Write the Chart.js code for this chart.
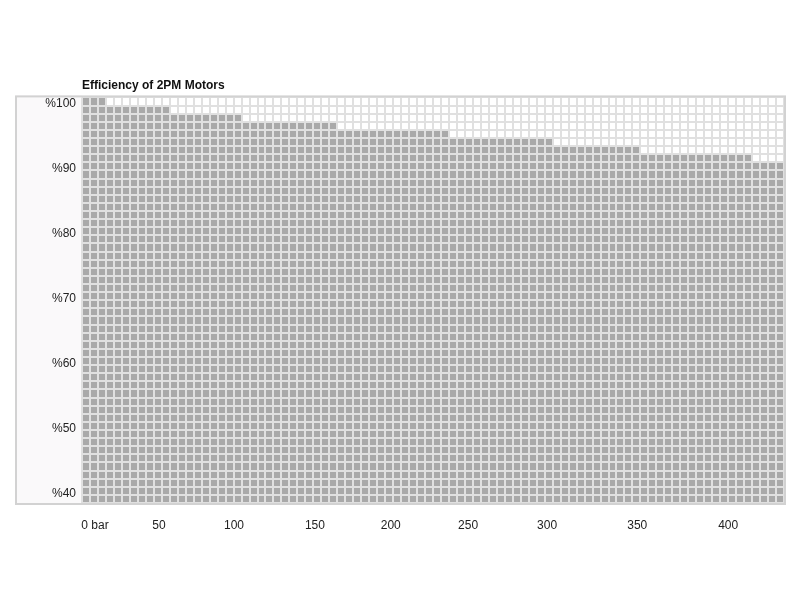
<!DOCTYPE html>
<html>
<head>
<meta charset="utf-8">
<script src="https://cdn.jsdelivr.net/npm/chart.js@4/dist/chart.umd.min.js"></script>
<style>
    html, body { margin: 0; padding: 0; background: #ffffff; }
    #wrap { width: 800px; height: 600px; position: relative; }
</style>
</head>
<body>
<div id="wrap"><canvas id="myChart" width="800" height="600"></canvas></div>
<script>
// ============  data ============ //

// one column per cell across the plot (88 cells)
const columns = [];
for (let i = 0; i < 88; i++) columns.push('c' + i);

// efficiency reached by each column (%)
const efficiency = [
    101, 101, 101,
    99.75, 99.75, 99.75, 99.75, 99.75, 99.75, 99.75, 99.75,
    98.5, 98.5, 98.5, 98.5, 98.5, 98.5, 98.5, 98.5, 98.5,
    97.25, 97.25, 97.25, 97.25, 97.25, 97.25, 97.25, 97.25, 97.25, 97.25, 97.25, 97.25,
    96, 96, 96, 96, 96, 96, 96, 96, 96, 96, 96, 96, 96, 96,
    94.75, 94.75, 94.75, 94.75, 94.75, 94.75, 94.75, 94.75, 94.75, 94.75, 94.75, 94.75, 94.75,
    93.5, 93.5, 93.5, 93.5, 93.5, 93.5, 93.5, 93.5, 93.5, 93.5, 93.5,
    92.25, 92.25, 92.25, 92.25, 92.25, 92.25, 92.25, 92.25, 92.25, 92.25, 92.25, 92.25, 92.25, 92.25,
    91, 91, 91, 91
];

// pressure tick labels and where they sit (in column units)
const pressureLabels = ['0 bar', '50', '100', '150', '200', '250', '300', '350', '400'];
const pressureAt = [1.63, 9.65, 19.05, 29.2, 38.7, 48.4, 58.3, 69.6, 81.0];

// efficiency tick labels
const effTicks = [40, 50, 60, 70, 80, 90, 100];

// the grid rows: 50 rows of 1.25 %
const yMin = 38.5;
const yMax = 101;
const rowStep = 1.25;

// ============  chart ============ //

const font = { family: "'Liberation Sans', Arial, sans-serif", size: 12 };
const gridColor = '#e0e0e0';

// frame + light panel behind the y labels
const framePlugin = {
    id: 'frame',
    beforeDraw(chart) {
        const { ctx, chartArea } = chart;
        ctx.save();
        ctx.fillStyle = '#faf9fa';
        ctx.fillRect(16, chartArea.top - 2, chartArea.left - 16, chartArea.bottom - chartArea.top + 4);
        ctx.fillStyle = '#ffffff';
        ctx.fillRect(chartArea.left, chartArea.top, chartArea.right - chartArea.left, chartArea.bottom - chartArea.top);
        ctx.restore();
    },
    afterDraw(chart) {
        const { ctx, chartArea } = chart;
        ctx.save();
        ctx.strokeStyle = '#d2d2d2';
        ctx.lineWidth = 2;
        ctx.strokeRect(16, chartArea.top - 1, chartArea.right + 1 - 16, chartArea.bottom - chartArea.top + 2);
        ctx.restore();
    }
};

const ctx = document.getElementById('myChart').getContext('2d');

let effChart = new Chart(ctx, {
    type: 'bar',
    data: {
        labels: columns,
        datasets: [{
            label: 'efficiency',
            data: efficiency,
            backgroundColor: '#a9a9a9',
            borderWidth: 0,
            categoryPercentage: 1,
            barPercentage: 1,
            base: yMin
        }]
    },
    options: {
        responsive: false,
        animation: false,
        devicePixelRatio: 1,
        layout: { padding: { left: 0, right: 16, top: 0, bottom: 0 } },
        plugins: {
            legend: { display: false },
            tooltip: { enabled: false },
            title: {
                display: true,
                text: 'Efficiency of 2PM Motors',
                align: 'start',
                fullSize: false,
                color: '#111',
                font: { family: font.family, size: 12, weight: 'bold' },
                padding: { top: 78, bottom: 5 }
            }
        },
        scales: {
            x: {
                type: 'category',
                position: 'bottom',
                offset: true,
                grid: { offset: true, color: gridColor, lineWidth: 2, z: 1, drawTicks: false },
                border: { display: false },
                ticks: { display: false }
            },
            xLabels: {
                type: 'linear',
                position: 'bottom',
                offset: false,
                min: 0,
                max: columns.length,
                afterBuildTicks: (axis) => { axis.ticks = pressureAt.map(v => ({ value: v })); },
                afterFit: (axis) => { axis.height = 97; },
                grid: { display: false, drawTicks: false, offset: false },
                border: { display: false },
                ticks: {
                    autoSkip: false,
                    maxRotation: 0,
                    padding: 15,
                    color: '#222',
                    font: font,
                    callback: (value, index) => pressureLabels[index]
                }
            },
            y: {
                type: 'linear',
                position: 'left',
                min: yMin,
                max: yMax,
                afterBuildTicks: (axis) => {
                    const t = [];
                    for (let v = yMin; v <= yMax + 0.001; v += rowStep) t.push({ value: v });
                    axis.ticks = t;
                },
                afterFit: (axis) => { axis.width = 0; },
                grid: { color: gridColor, lineWidth: 2, z: 1, drawTicks: false },
                border: { display: false },
                ticks: { display: false }
            },
            yLabels: {
                type: 'linear',
                position: 'left',
                min: yMin,
                max: yMax,
                afterBuildTicks: (axis) => { axis.ticks = effTicks.map(v => ({ value: v })); },
                afterFit: (axis) => { axis.width = 82; },
                grid: { display: false, drawTicks: false },
                border: { display: false },
                ticks: {
                    padding: 6,
                    color: '#222',
                    font: font,
                    callback: (value) => '%' + value
                }
            }
        }
    },
    plugins: [framePlugin]
});
</script>
</body>
</html>
